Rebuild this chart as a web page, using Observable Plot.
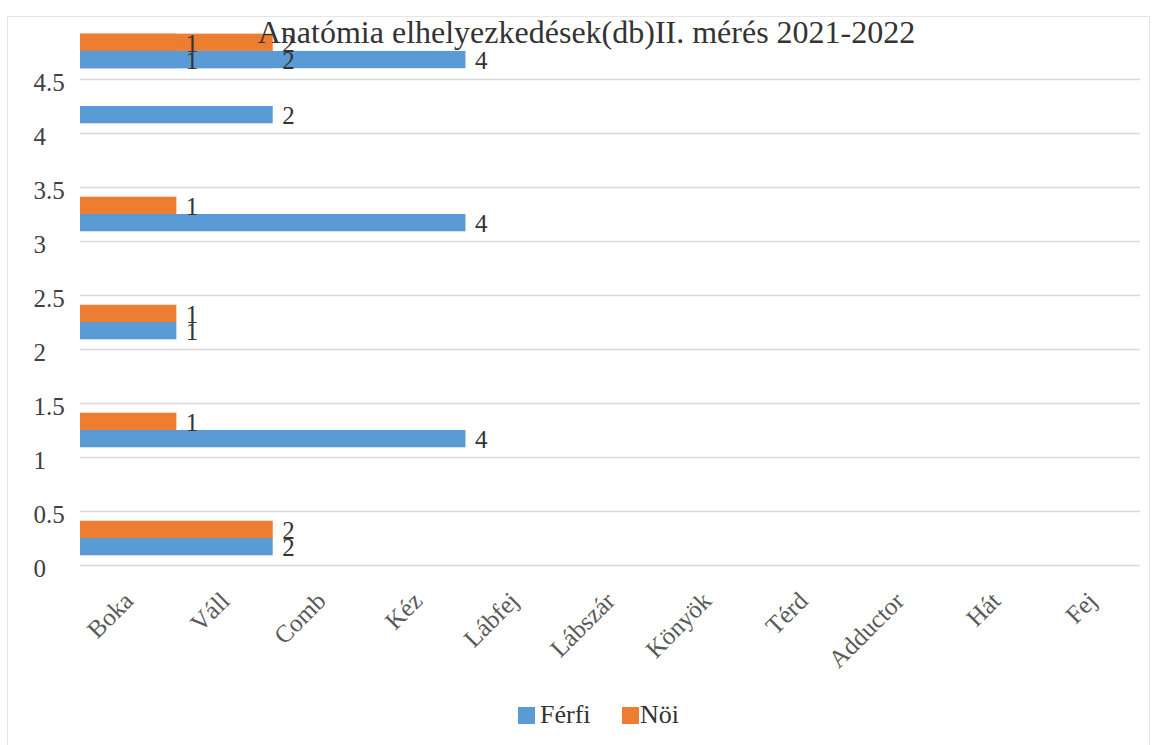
<!DOCTYPE html>
<html><head><meta charset="utf-8">
<script src="https://cdn.jsdelivr.net/npm/d3@7"></script>
<script src="https://cdn.jsdelivr.net/npm/@observablehq/plot@0.6"></script>
<style>
body{margin:0;background:#fff;}
#wrap{position:relative;width:1152px;height:745px;overflow:hidden;font-family:"Liberation Serif","Times New Roman",serif;}
#border{position:absolute;left:7px;top:16px;width:1143px;height:740px;border:1px solid #e6e6e6;box-sizing:border-box;}
#chart{position:absolute;left:0;top:0;}
#title{position:absolute;left:0;top:13px;width:1173px;text-align:center;font-size:32px;line-height:38px;color:#333;}
.sw{position:absolute;width:17px;height:17px;top:707px;}
.lt{position:absolute;top:700px;font-size:26px;line-height:30px;color:#333;}
</style></head>
<body>
<div id="wrap">
  <div id="border"></div>
  <div id="chart"></div>
  <div id="title">Anatómia elhelyezkedések(db)II. mérés 2021-2022</div>
  <div class="sw" style="left:518px;background:#5B9BD5"></div>
  <div class="lt" style="left:540px">Férfi</div>
  <div class="sw" style="left:622px;background:#ED7D31"></div>
  <div class="lt" style="left:640px">Nöi</div>
</div>
<script>
// Data
const categories = ["Boka","Váll","Comb","Kéz","Lábfej","Lábszár","Könyök","Térd","Adductor","Hát","Fej"];
const seriesNames = ["Férfi","Nöi"];
const seriesColors = ["#5B9BD5","#ED7D31"];
const groupPos = [0.25, 1.25, 2.25, 3.25, 4.25, 4.76, 4.76, 4.76];
const ferfi    = [2, 4, 1, 4, 2, 4, 2, 1];
const noi      = [2, 1, 1, 1, null, 2, 1, null];
const yTicks = [0, 0.5, 1, 1.5, 2, 2.5, 3, 3.5, 4, 4.5];

const barH = 0.16;
const bars = [];
groupPos.forEach((p, i) => {
  if (ferfi[i] != null) bars.push({series: seriesNames[0], value: ferfi[i], y1: p - barH, y2: p});
  if (noi[i] != null) bars.push({series: seriesNames[1], value: noi[i], y1: p, y2: p + barH});
});
const cats = categories.map((name, i) => ({name, x: i + 0.5}));

const chart = Plot.plot({
  width: 1152, height: 745,
  marginLeft: 80, marginRight: 12, marginTop: 25, marginBottom: 180,
  x: {domain: [0, 11], axis: null},
  y: {domain: [0, 5], axis: null},
  color: {domain: seriesNames, range: seriesColors},
  style: {fontFamily: "'Liberation Serif','Times New Roman',serif", background: "transparent", overflow: "visible"},
  marks: [
    Plot.ruleY(yTicks, {stroke: "#d9d9d9", strokeWidth: 1.5}),
    Plot.text(yTicks, {y: d => d, text: d => String(d), frameAnchor: "left", textAnchor: "start", dx: -47, dy: 3, fontSize: 25, fill: "#404040"}),
    Plot.rect(bars, {x1: d => 0, x2: "value", y1: "y1", y2: "y2", fill: "series"}),
    Plot.text(bars, {x: "value", y: d => (d.y1 + d.y2) / 2, text: d => String(d.value), textAnchor: "start", dx: 9, dy: 1, fontSize: 25, fill: "#333"}),
    Plot.text(cats, {x: "x", text: "name", frameAnchor: "bottom", rotate: -45, textAnchor: "end", dx: 6, dy: 37, fontSize: 25, fill: "#595959"})
  ]
});
document.getElementById("chart").appendChild(chart);
</script>
</body></html>
